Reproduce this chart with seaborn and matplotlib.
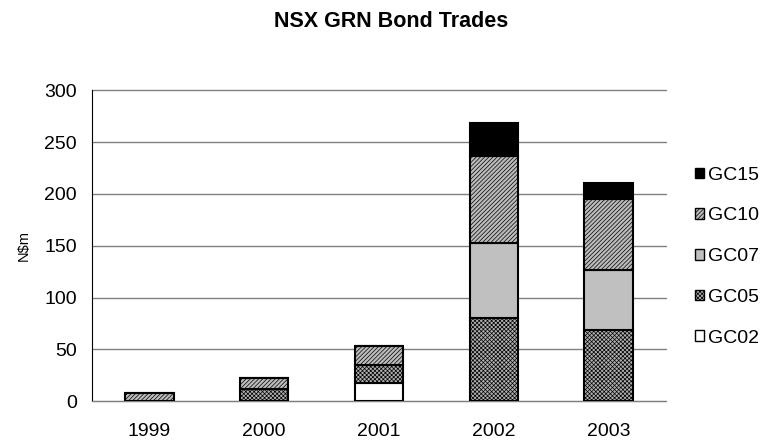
import numpy as np
import pandas as pd
import matplotlib
matplotlib.use("Agg")
import matplotlib.pyplot as plt
from matplotlib.patches import Patch
import seaborn as sns

# Data (N$m)
years = ['1999', '2000', '2001', '2002', '2003']
gc02 = [0, 0, 17, 0, 0]
gc05 = [0, 12, 18, 80.5, 69]
gc07 = [0, 0, 0, 72, 58]
gc10 = [7.5, 10, 18, 84, 68]
gc15 = [0, 0, 0, 32, 15.5]

series_names = ['GC02', 'GC05', 'GC07', 'GC10', 'GC15']
series_vals = [gc02, gc05, gc07, gc10, gc15]
faces = ['white', '#b0b0b0', '#c0c0c0', '#bcbcbc', 'black']
hatches = ['', 'xxxxxxxx', '', '////////', '']

sns.set_style('white')
plt.rcParams['font.family'] = ['Liberation Sans', 'DejaVu Sans']
plt.rcParams['hatch.linewidth'] = 0.5
plt.rcParams['text.color'] = 'black'
plt.rcParams['xtick.color'] = 'black'
plt.rcParams['ytick.color'] = 'black'
plt.rcParams['axes.labelcolor'] = 'black'

fig = plt.figure(figsize=(7.63, 4.41), dpi=100)
ax = fig.add_axes([92 / 763, 40 / 441, 574 / 763, 310.5 / 441])

bottom = np.zeros(len(years))
for name, vals, fc, h in zip(series_names, series_vals, faces, hatches):
    sns.barplot(x=years, y=vals, bottom=bottom, color=fc, saturation=1,
                hatch=h, edgecolor='black', linewidth=1.5, width=0.42,
                errorbar=None, ax=ax, zorder=3)
    bottom = bottom + np.array(vals)

ax.set_ylim(0, 300)
ax.set_xlim(-0.5, 4.5)
ax.set_yticks(np.arange(0, 301, 50))
ax.yaxis.grid(True, color='#808080', linewidth=1)
for gl in ax.get_ygridlines():
    gl.set_clip_on(False)
ax.set_axisbelow(True)
for s in ['top', 'right']:
    ax.spines[s].set_visible(False)
ax.spines['left'].set_color('black')
ax.spines['bottom'].set_color('#808080')

ax.set_xticks(np.arange(-0.5, 5, 1), minor=True)
ax.tick_params(axis='x', which='minor', length=4, direction='out', color='black')
ax.tick_params(axis='x', which='major', length=0, pad=15.5, labelsize=14)
ax.tick_params(axis='y', length=4.3, direction='out', color='black', pad=6.5, labelsize=14)
ax.set_ylabel('N$m', fontsize=10.5, labelpad=10)
ax.set_xlabel('')

fig.text(391 / 763, 1 - 26.7 / 441, 'NSX GRN Bond Trades', fontsize=15.5,
         fontweight='bold', ha='center', va='baseline')

handles = [Patch(facecolor=fc, edgecolor='black', hatch=h, linewidth=1.0)
           for fc, h in zip(faces, hatches)]
fig.legend(handles[::-1], series_names[::-1], loc='center left',
           bbox_to_anchor=(695 / 763, 1 - 256.7 / 441), frameon=False, fontsize=14,
           handlelength=0.46, handleheight=0.46, handletextpad=0.2,
           labelspacing=1.22, borderpad=0, borderaxespad=0)

fig.savefig('out.png', dpi=100)
